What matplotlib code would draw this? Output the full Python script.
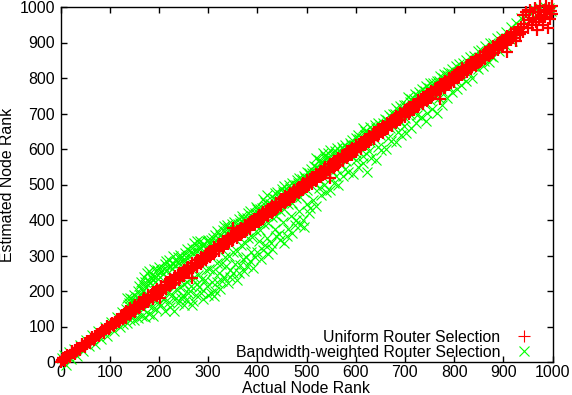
import matplotlib
matplotlib.use("Agg")
import matplotlib.pyplot as plt

green_upper = [(3,12),(8,20),(12,-8),(18,28),(22,8),(28,36),(33,16),(40,48),(46,30),(52,62),(58,44),(65,76),(70,52),(77,88),(82,66),(90,100),(95,74),(102,112),(108,88),(115,128),(120,100),(125,140),(128,106),(133,150),
(135,180),(140,165),(145,178),(150,190),(155,182),(160,215),(165,205),(170,240),(175,250),(178,228),(185,245),(190,262),(195,240),(200,268),(210,262),(215,285),(222,270),(229,298),(235,285),(242,302),(250,290),(258,318),(265,310),(272,335),(280,325),(284,340),(292,332),(300,345),(310,350),(318,368),(325,358),(332,382),(338,387),(345,375),(352,395),(360,388),(368,410),(375,400),(382,420),(390,412),(398,438),(405,430),(412,458),(419,471),(425,445),(432,462),(440,480),(448,470),(455,495),(462,482),(470,505),(478,500),(485,518),(492,510),(500,535),(508,528),(515,552),(520,575),(528,560),(534,588),(540,572),(548,598),(555,580),(562,602),(570,590),(578,612),(585,600),(592,625),(600,632),(607,628),(615,658),(622,640),(630,662),(637,650),(645,672),(652,660),(660,685),(668,695),(675,700),(682,715),(690,722),(698,725),(706,747),(712,740),(720,755),(728,760),(735,770),(742,778),(751,786),(758,785),(765,792),(772,805),(780,812),(788,818),(795,825),(803,835),(810,840),(818,842),(825,850),(832,860),(840,862),(848,875),(855,880),(862,890),(873,898),(880,900),(888,912),(895,918),(905,930),(915,945),(925,955),(935,968),(945,975),(955,985),(965,992),(975,998),(985,1000),(992,998),(997,990)]

green_upper_mid = [(138,160),(146,165),(153,172),(161,190),(168,200),(173,212),(182,225),(188,232),(193,225),(203,240),(208,248),(217,258),(226,262),(232,272),(240,278),(248,282),(256,296),(263,298),(270,308),(277,312),(286,320),(295,322),(303,334),(312,335),(320,348),(328,352),(336,362),(342,362),(350,378),(357,378),(364,392),(372,392),(379,405),(387,404),(395,420),(403,418),(410,435),(417,440),(428,446),(436,460),(444,465),(452,478),(459,480),(467,490),(475,498),(482,505),(490,516),(497,518),(505,532),(512,532),(520,548),(526,545),(532,562),(538,558),(545,575),(552,568),(559,585),(566,585),(574,600),(582,602),(590,612),(597,612),(604,625),(612,632),(619,640),(627,645),(634,655),(642,660),(649,668),(656,672),(664,682),(672,690),(680,700),(688,708),(695,715),(703,725),(710,732),(718,740),(726,750),(733,755),(740,762),(748,772),(756,780),(763,785),(770,792),(778,800),(786,808),(793,815)]

green_upper_extra = [(142,180),(148,172),(157,200),(163,225),(172,225),(180,255),(186,238),(197,258),(205,255),(213,275),(220,288),(227,280),(238,295),(245,292),(254,308),(268,322),(278,340),(288,330),(298,340),(306,345),(315,358),(330,372),(340,378),(348,388),(362,402),(370,402),(385,425),(400,430),(415,450),(435,475),(450,488),(465,498),(480,512),(495,525),(510,545),(525,570),(537,580),(543,590),(558,595),(572,605),(588,618),(605,640),(618,652),(640,668)]

green_lower = [(135,110),(142,118),(150,118),(158,125),(165,130),(172,128),(180,135),(189,129),(195,150),(200,165),(205,160),(212,145),(220,170),(230,143),(238,165),(245,180),(252,160),(260,195),(267,161),(275,190),(282,210),(290,178),(298,215),(305,195),(311,185),(318,225),(325,205),(332,240),(340,222),(345,260),(351,251),(358,230),(365,272),(372,255),(378,295),(385,284),(392,265),(400,310),(408,290),(415,330),(422,305),(430,318),(438,355),(446,345),(455,335),(462,375),(470,362),(478,400),(487,386),(495,380),(505,420),(514,456),(520,440),(530,470),(540,480),(548,484),(556,505),(565,500),(575,525),(585,535),(595,530),(605,550),(615,560),(622,536),(632,575),(642,570),(652,598),(662,600),(672,622),(682,620),(692,640),(703,645),(712,660),(722,672),(732,690),(742,680),(755,712),(765,701),(775,725),(785,745),(795,760),(805,770),(815,780),(825,792),(836,800),(848,825),(858,835),(870,845),(880,858),(892,875),(905,890),(918,905)]

green_lower_mid = [(145,130),(155,138),(168,150),(178,160),(186,155),(193,172),(203,185),(210,178),(218,195),(226,190),(234,205),(242,210),(250,220),(258,225),(265,215),(272,240),(280,245),(288,235),(295,258),(302,262),(310,255),(318,280),(326,275),(334,295),(342,300),(350,310),(358,312),(366,330),(374,335),(382,350),(390,352),(398,368),(406,372),(414,388),(422,392),(430,408),(438,410),(446,425),(454,430),(462,445),(470,448),(478,462),(486,465),(494,480),(502,485),(510,498),(518,505),(526,515),(534,522),(544,530),(552,538),(560,545),(570,558),(580,565),(590,580),(600,590),(610,600),(620,608),(630,620),(640,628),(650,640),(660,650),(670,660),(680,668),(690,680),(700,688),(710,700),(720,708),(730,720),(740,728),(750,738),(762,750),(775,762),(790,775),(802,788),(815,802),(830,815),(845,832),(860,848),(875,862)]

green_lower_extra = [(222,155),(235,180),(248,190),(256,175),(263,200),(270,172),(278,220),(286,195),(293,230),(300,190),(308,225),(315,200),(322,250),(329,228),(337,270),(345,240),(355,275),(362,250),(370,290),(380,270),(388,310),(396,295),(404,340),(412,315),(420,350),(428,335),(436,375),(444,360),(452,395),(460,355),(468,410),(476,385),(484,425),(492,400),(500,445),(508,435),(525,490),(536,500),(560,525),(578,545),(600,570),(615,580),(628,595),(645,605),(665,630),(685,648),(698,665),(725,695),(745,702),(770,745)]

red_points = [(1,0),(4,6),(7,5),(10,13),(13,11),(17,18),(20,19),(23,24),(27,26),(30,33),(33,31),(37,39),(40,38),(43,46),(47,45),(50,53),(53,52),(57,60),(60,58),(63,66),(67,65),(70,73),(73,72),(77,79),(80,81),(83,85),(87,86),(90,93),(93,92),(97,100),(100,98),(103,106),(107,105),(110,113),(113,111),(117,120),(120,118),(123,127),(127,125),(130,134),(133,130),(137,141),(140,137),(143,147),(147,143),(150,155),(153,150),(157,161),(160,157),(163,168),(167,163),(170,174),(173,170),(177,182),(180,176),(183,189),(187,182),(190,196),(193,188),(197,203),(200,195),(202,180),(205,211),(208,203),(212,217),(215,210),(218,224),(222,216),(225,231),(228,222),(232,238),(235,230),(238,244),(242,236),(245,251),(248,243),(252,258),(255,250),(258,264),(262,256),(265,270),(267,237),(270,264),(273,279),(277,272),(280,286),(283,278),(287,293),(290,285),(293,300),(297,292),(300,307),(303,299),(307,313),(310,305),(313,320),(317,312),(320,327),(323,318),(327,333),(330,325),(333,340),(337,332),(340,347),(343,338),(347,354),(351,345),(351,377),(354,361),(358,352),(361,368),(365,359),(368,375),(372,366),(375,382),(379,373),(382,389),(386,380),(389,396),(393,387),(396,403),(400,394),(403,409),(407,401),(410,417),(414,408),(417,424),(421,415),(424,431),(428,422),(431,438),(435,429),(438,445),(442,436),(445,451),(449,443),(452,459),(456,450),(459,466),(463,457),(466,473),(470,464),(473,480),(477,471),(480,486),(484,478),(487,494),(491,485),(494,501),(498,492),(501,508),(505,499),(508,515),(512,506),(515,522),(519,513),(522,528),(526,520),(529,536),(533,527),(536,543),(540,534),(543,550),(547,541),(548,518),(551,557),(554,548),(558,565),(561,555),(565,572),(568,562),(572,579),(575,570),(579,586),(582,577),(586,593),(589,584),(593,600),(596,591),(600,607),(603,598),(607,614),(610,605),(614,621),(617,612),(621,628),(624,619),(628,635),(631,626),(635,642),(638,633),(642,649),(645,640),(649,656),(652,647),(656,663),(659,654),(663,670),(666,661),(670,677),(673,668),(677,684),(680,675),(684,691),(687,682),(691,698),(694,689),(698,705),(701,696),(705,712),(708,703),(712,719),(715,710),(719,726),(722,717),(726,733),(729,724),(733,740),(736,731),(740,747),(743,738),(747,754),(750,745),(754,761),(757,752),(761,768),(764,759),(768,775),(771,742),(772,766),(775,782),(779,773),(782,789),(786,780),(789,796),(793,787),(796,803),(800,794),(803,810),(807,801),(810,817),(814,808),(817,824),(821,815),(824,831),(828,822),(831,838),(835,829),(838,845),(842,836),(845,852),(849,843),(852,859),(856,850),(859,866),(863,857),(866,873),(870,864),(873,880),(877,871),(880,887),(884,878),(887,894),(891,885),(894,901),(898,892),(901,908),(905,899),(907,872),(908,915),(912,906),(915,922),(919,912),(922,930),(925,905),(926,920),(929,938),(933,925),(936,945),(940,978),(940,930),(943,952),(946,985),(950,940),(953,962),(955,992),(958,950),(961,970),(964,996),(966,958),(968,935),(970,985),(972,965),(975,1002),(977,978),(980,950),(982,992),(985,972),(987,1004),(989,985),(991,940),(993,998),(995,965),(996,990),(998,1002),(999,980)]

red_above = [(5,11),(14,20),(24,30),(34,40),(44,50),(54,60),(64,70),(74,80),(84,91),(94,101),(104,111),(114,121),(124,132),(133,143),(142,152),(151,161),(160,170),(169,179),(178,188),(187,197),(196,206),(205,215),(214,224),(223,233),(232,242),(241,251),(250,260),(259,269),(268,278),(277,287),(286,296),(295,305),(304,314),(313,323),(322,332),(331,341),(340,350),(349,359),(358,368),(367,377),(376,386),(385,395),(394,404),(403,413),(412,422),(421,431),(430,440),(439,449),(448,458),(457,467),(466,476),(475,485),(484,494),(493,503),(502,512),(511,521),(520,530),(529,539),(538,548),(547,557),(556,566),(565,575),(574,584),(583,593),(592,602),(601,611),(610,620),(619,629),(628,638),(637,647),(646,656),(655,665),(664,674),(673,683),(682,692),(691,701),(700,710),(709,719),(718,728),(727,737),(736,746),(745,755),(754,764),(763,773),(772,782),(781,791),(790,800),(799,809),(808,818),(817,827),(826,836),(835,845),(844,854),(853,863),(862,872),(871,881),(880,890),(889,899),(898,908),(907,917),(916,926)]

red_below = [(9,3),(19,13),(29,23),(39,33),(49,43),(59,53),(69,63),(79,73),(89,82),(99,92),(109,102),(119,112),(128,120),(133,124),(142,133),(151,142),(160,151),(169,160),(178,169),(187,178),(196,187),(205,196),(214,205),(223,214),(232,223),(241,232),(250,241),(259,250),(268,259),(277,268),(286,277),(295,286),(304,295),(313,304),(322,313),(331,322),(340,331),(349,340),(358,349),(367,358),(376,367),(385,376),(394,385),(403,394),(412,403),(421,412),(430,421),(439,430),(448,439),(457,448),(466,457),(475,466),(484,475),(493,484),(502,493),(511,502),(520,511),(529,520),(538,529),(547,538),(556,547),(565,556),(574,565),(583,574),(592,583),(601,592),(610,601),(619,610),(628,619),(637,628),(646,637),(655,646),(664,655),(673,664),(682,673),(691,682),(700,691),(709,700),(718,709),(727,718),(736,727),(745,736),(754,745),(763,754),(772,763),(781,772),(790,781),(799,790),(808,799),(817,808),(826,817),(835,826),(844,835),(853,844),(862,853),(871,862),(880,871),(889,880),(898,889),(907,898),(916,907)]

series_labels = ["Uniform Router Selection", "Bandwidth-weighted Router Selection"]
x_label = "Actual Node Rank"
y_label = "Estimated Node Rank"
ticks = [0, 100, 200, 300, 400, 500, 600, 700, 800, 900, 1000]

plt.rcParams["font.family"] = ["Liberation Sans", "DejaVu Sans"]
plt.rcParams["font.size"] = 11.4

fig = plt.figure(figsize=(5.72, 3.95), dpi=100)
ax = fig.add_axes([60.5/572, 1-362/395, 492/572, 355/395])
green = green_upper + green_upper_mid + green_upper_extra + green_lower + green_lower_mid + green_lower_extra
red = red_points + red_above + red_below
gx, gy = zip(*green)
rx, ry = zip(*red)
g, = ax.plot(gx, gy, ls="none", marker="x", ms=7.2, mew=0.8, color="#00ff00", clip_on=False, label=series_labels[1], antialiased=False)
r, = ax.plot(rx, ry, ls="none", marker="+", ms=9, mew=1.6, color="#ff0000", clip_on=False, label=series_labels[0], antialiased=False)
ax.set_xlim(0, 1000)
ax.set_ylim(0, 1000)
ax.set_xticks(ticks)
ax.set_yticks(ticks)
ax.tick_params(direction="in", length=4, width=1, top=True, right=True)
ax.tick_params(axis="x", pad=2.5)
ax.tick_params(axis="y", pad=4)
ax.set_xlabel(x_label, labelpad=0.3)
ax.set_ylabel(y_label, labelpad=3)
for s in ax.spines.values():
    s.set_linewidth(1)
    s.set_zorder(1)
leg = ax.legend([r, g], series_labels, loc="lower right", frameon=False, markerfirst=False,
                bbox_to_anchor=(532/572, 1-360/395), bbox_transform=fig.transFigure,
                borderpad=0, borderaxespad=0, labelspacing=0.02, handlelength=1.0,
                handletextpad=1.0, alignment="right")
for h in leg.legend_handles:
    h.set_markeredgewidth(0.8)
fig.savefig("out.png", dpi=100)
